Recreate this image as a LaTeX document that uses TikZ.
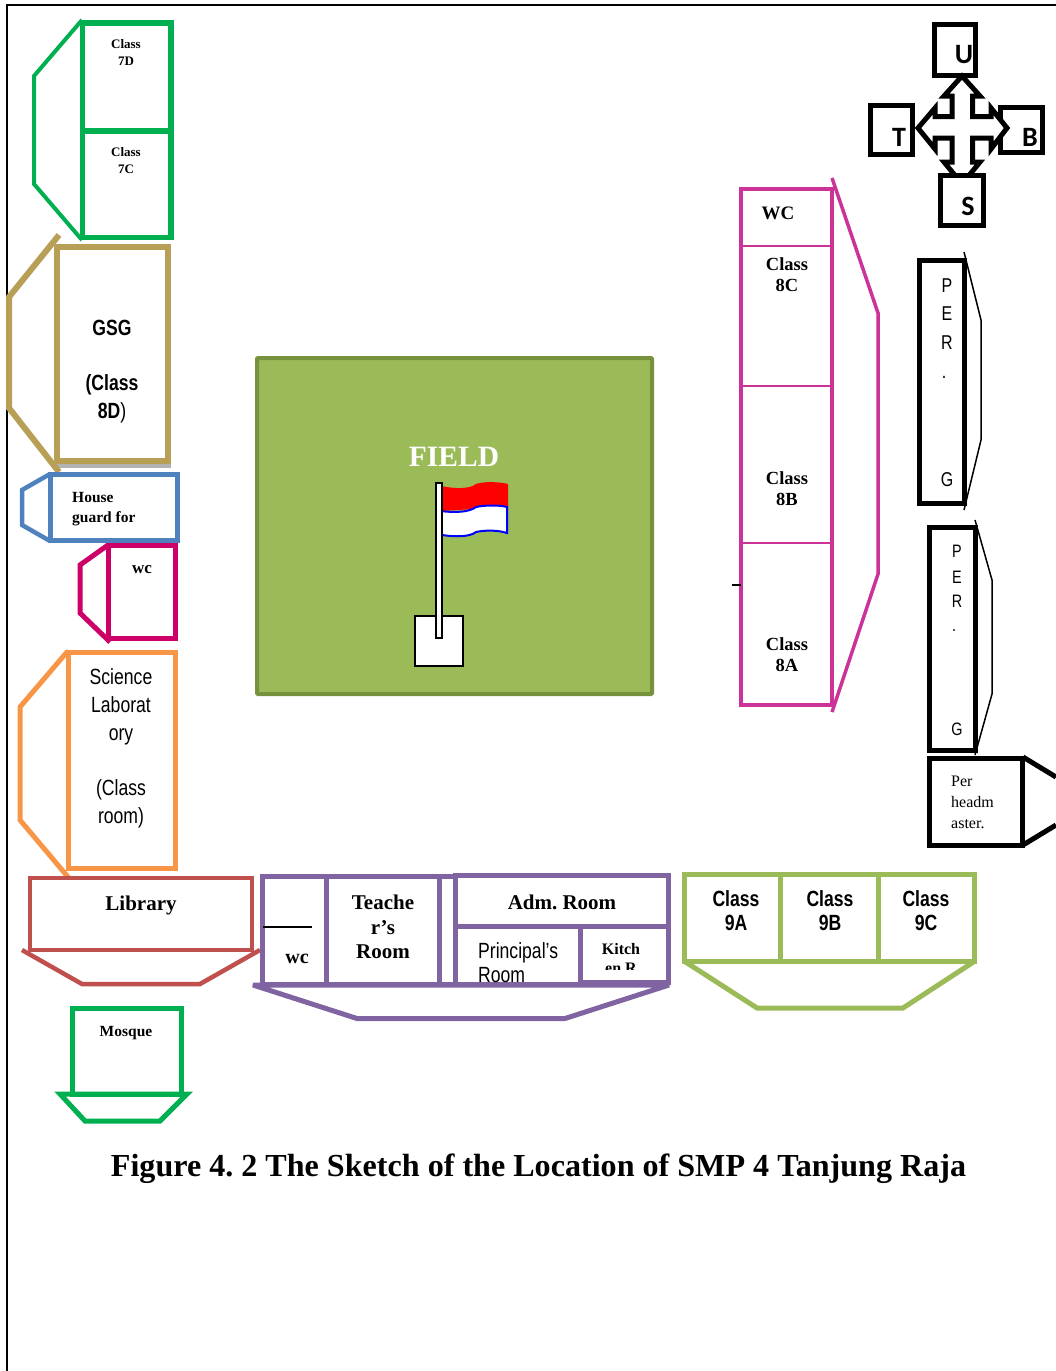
\documentclass[tikz,border=0pt]{standalone}
\usepackage{fontspec}
\setmainfont{Liberation Serif}
\newfontfamily\narrowfont[FakeStretch=0.8]{Liberation Sans}
\newfontfamily\compassfont{Carlito}
\definecolor{RoomGreen}{HTML}{00B050}
\definecolor{RoomTan}{HTML}{B79F55}
\definecolor{RoomBlue}{HTML}{4F81BD}
\definecolor{RoomPink}{HTML}{CC0066}
\definecolor{RoomOrange}{HTML}{F79646}
\definecolor{RoomRed}{HTML}{C0504D}
\definecolor{RoomPurple}{HTML}{8064A2}
\definecolor{RoomLime}{HTML}{9BBB59}
\definecolor{RoomMagenta}{HTML}{CC3399}
\definecolor{FieldEdge}{HTML}{76923C}
\tikzset{serifbold/.style={font=\fontsize{#1}{#1}\linespread{1.3}\selectfont\bfseries,align=center,inner sep=0pt},
 sanslabel/.style={font=\fontsize{22}{27.7}\selectfont\narrowfont,align=center,inner sep=0pt},
 sansbold/.style={font=\fontsize{22}{24}\selectfont\narrowfont\bfseries,align=center,inner sep=0pt},
 perletter/.style={font=\fontsize{20}{24}\selectfont\narrowfont,inner sep=0pt},
 compassletter/.style={font=\fontsize{28}{30}\selectfont\compassfont\bfseries,inner sep=0pt}}
\begin{document}
\frenchspacing
\begin{tikzpicture}[x=1pt,y=-1pt,line join=miter]
\useasboundingbox (0,0) rectangle (1056,1371);
% page frame
\draw[black,line width=2] (7,1371)--(7,5)--(1056,5);
% left column
\draw[RoomGreen,line width=4] (82,20)--(34,76)--(34,184)--(82,240);
\foreach \y/\h in {23/108,131/106.5}{
 \draw[RoomGreen,line width=5.5] (82.5,\y) rectangle ++(88.5,\h);
}
\node[serifbold=13] (class7d) at (126,52.5) {Class\\7D};
\node[serifbold=13] (class7c) at (126,160.5) {Class\\7C};
\fill[black!30] (54,464) rectangle (171,468);
\draw[RoomTan,line width=6] (59,235)--(9,297)--(9,408)--(59,472);
\draw[RoomTan,line width=6] (57,247) rectangle (168,461);
\node[sansbold,font=\fontsize{22}{27.7}\selectfont\narrowfont\bfseries] (gsg) at (112,371.5) {GSG\\ \\(Class\\8D\textmd{)}};
\draw[RoomBlue,line width=4.5] (50,474)--(22,490)--(22,525)--(50,541);
\draw[RoomBlue,line width=5] (50.5,474.5) rectangle (177.5,540.5);
\node[serifbold=15.5,align=left,anchor=west] (house) at (72,509.5) {House\\guard for};
\draw[RoomPink,line width=5] (108,545)--(80,565)--(80,613)--(110,642);
\draw[RoomPink,line width=5] (108.5,545) rectangle (175.5,638);
\node[serifbold=17] (wcleft) at (142,570) {wc};
\draw[RoomOrange,line width=5,line cap=round] (67,652)--(20,707)--(20,820)--(68,877);
\draw[RoomOrange,line width=5] (68.5,652) rectangle (175.5,868.5);
\node[sanslabel] (science) at (121,748.5) {Science\\Laborat\\ory\\ \\(Class\\room)};
\draw[RoomRed,line width=4.5] (30,878) rectangle (252,950);
\draw[RoomRed,line width=4.5] (22,950)--(82,984)--(200,984)--(260,950);
\node[serifbold=21] (library) at (141,905) {Library};
\draw[RoomGreen,line width=5] (72,1008) rectangle (181,1094);
\draw[RoomGreen,line width=5] (60,1094)--(187,1094)--(160,1121)--(85,1121)--cycle;
\node[serifbold=15.5] (mosque) at (126,1033) {Mosque};
% field and flag
\draw[FieldEdge,fill=RoomLime,line width=4,rounded corners=1pt] (257,358) rectangle (652,694);
\node[serifbold=29.5,text=white] (field) at (454,457) {FIELD};
\draw[black,fill=white,line width=2] (415,616) rectangle (463,666);
\fill[red] (441,486) .. controls (455,489) and (470,489) .. (476,484) .. controls (485,481) and (500,482) .. (508,484)
 --(508,507)--(441,511)--cycle;
\draw[blue,fill=white,line width=2] (441,511) .. controls (455,513) and (470,512) .. (476,507) .. controls (485,505) and (500,505) .. (507,507)
 --(507,533) .. controls (498,530) and (485,530) .. (476,532) .. controls (470,537) and (455,537) .. (442,535)--cycle;
\draw[black,fill=white,line width=2] (436,483) rectangle (441.5,638);
% right column
\draw[RoomMagenta,line width=3.5] (832,178)--(878,313)--(878,574)--(832,712);
\draw[RoomMagenta,line width=3.5] (741,189) rectangle (832,705);
\foreach \y in {246,386,543}{
 \draw[RoomMagenta,line width=1.5] (741,\y)--(832,\y);
}
\draw[black,line width=1.5] (732,585)--(741,585);
\node[serifbold=19] (wcright) at (778,213) {WC};
\foreach \y/\k in {275/C,489/B,655/A}{
 \node[serifbold=18.5,font=\fontsize{18.5}{21}\selectfont\bfseries] (class8\k) at (787,\y) {Class\\8\k};
}
% compass
\foreach \a/\b/\c/\d in {934.5/24.5/975.5/75,870.5/105.5/912.5/154.5,1000.5/107.5/1042.5/152.5}{
 \draw[black,fill=white,line width=5] (\a,\b) rectangle (\c,\d);
}
\draw[black,fill=white,line width=5] (962,76)--(980,96)--(972.5,96)--(972.5,116.5)--(991,116.5)--(991,108)--(1007,128)
 --(991,149)--(991,138)--(972.5,138)--(972.5,162)--(980,162)--(962,184)--(944,162)--(952,162)--(952,138)--(935,138)
 --(935,149)--(918,128)--(935,108)--(935,116.5)--(952,116.5)--(952,96)--(944,96)--cycle;
\draw[black,fill=white,line width=5] (940.5,175.5) rectangle (983.5,225.5);
\node[compassletter] (north) at (964,55) {U};
\node[compassletter] (west) at (899,137) {T};
\node[compassletter] (east) at (1030,137) {B};
\node[compassletter] (south) at (968,206) {S};
% store rooms
\draw[black,line width=1.5] (964,252)--(981,320)--(981,440)--(964,510);
\draw[black,line width=5] (919.5,260) rectangle (964,503);
\foreach \y/\l/\k in {286/P/a,314/E/b,343/R/c,480/G/d}{
 \node[perletter] (pera\k) at (947,\y) {\l};
}
\node[perletter] (peradot) at (944,377) {.};
\draw[black,line width=1.5] (975,520)--(992,580)--(992,694)--(975,755);
\draw[black,line width=5] (929.5,527.5) rectangle (975,750.5);
\foreach \y/\l/\k in {551/P/a,577/E/b,601/R/c,729/G/d}{
 \node[perletter,font=\fontsize{18}{22}\selectfont\narrowfont] (perb\k) at (957,\y) {\l};
}
\node[perletter,font=\fontsize{18}{22}\selectfont\narrowfont] (perbdot) at (954,631) {.};
\draw[black,line width=5] (1023,757)--(1056,777);
\draw[black,line width=5] (1023,845)--(1056,825);
\draw[black,line width=5] (929.5,758.5) rectangle (1022.5,845);
\node[font=\fontsize{16}{21}\selectfont,align=left,anchor=west,inner sep=0pt] (perhead) at (951,802) {Per\\headm\\aster.};
% bottom row
\draw[RoomPurple,line width=5,line join=bevel] (253,985)--(357,1018.5)--(565,1018.5)--(669,985)--cycle;
\foreach \a/\b/\c/\d in {262.5/876.5/326/984.5,326/876.5/439/984.5,439/876.5/455.5/984.5,455.5/875.5/668.5/926,455.5/926/580/984.5,580/926/668.5/982}{
 \draw[RoomPurple,line width=5] (\a,\b) rectangle (\c,\d);
}
\draw[black,line width=1.5] (263,927)--(312,927);
\node[serifbold=20] (wcstaff) at (297,959) {wc};
\node[serifbold=21,font=\fontsize{21}{24.5}\selectfont\bfseries] (teacher) at (383,927) {Teache\\r’s\\Room};
\node[serifbold=21] (adm) at (562,902) {Adm. Room};
\begin{scope}
\clip (458,928) rectangle (577,982);
\node[font=\fontsize{22}{24}\selectfont\narrowfont,align=left,anchor=west,inner sep=0pt] (principal) at (478,963) {Principal’s\\Room};
\end{scope}
\begin{scope}
\clip (583,928) rectangle (666,969);
\node[serifbold=16,font=\fontsize{16}{19.5}\selectfont\bfseries,align=center,anchor=north] (kitchen) at (621,943) {Kitch\\en R};
\end{scope}
\draw[RoomLime,line width=5] (684,961)--(757,1008)--(903,1008)--(975,961);
\foreach \x/\w/\k/\t in {684/96/A/736,780/98/B/830,878/96/C/926}{
 \draw[RoomLime,line width=5] (\x,874) rectangle ++(\w,87);
 \node[sansbold] (class9\k) at (\t,911) {Class\\9\k};
}
% caption
\node[font=\fontsize{32.1}{36}\selectfont\bfseries,inner sep=0pt] (caption) at (538.5,1169) {Figure 4. 2 The Sketch of the Location of SMP 4 Tanjung Raja};
\end{tikzpicture}
\end{document}
